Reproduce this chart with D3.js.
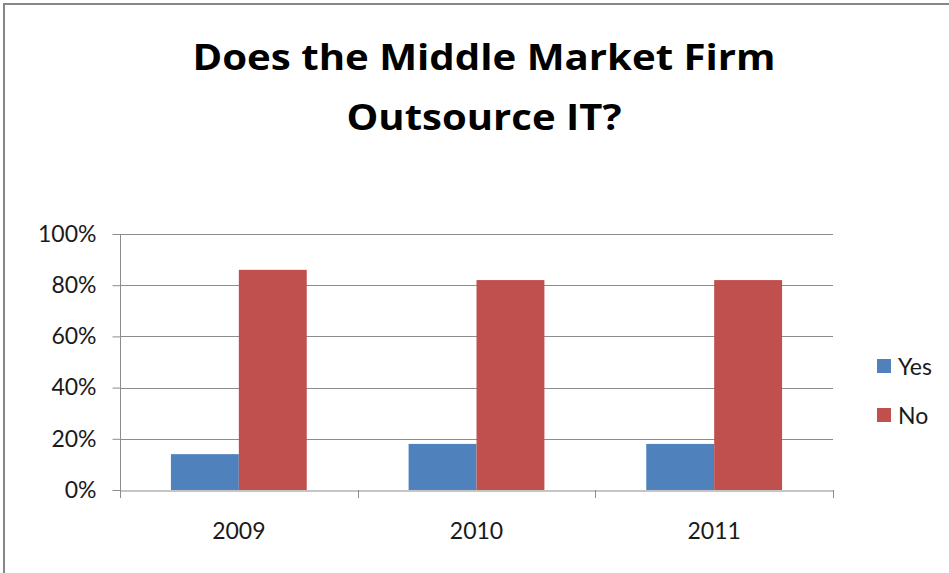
<!DOCTYPE html>
<html>
<head>
<meta charset="utf-8">
<script src="https://cdn.jsdelivr.net/npm/d3@7"></script>
<style>
  html, body { margin: 0; padding: 0; background: #fff; }
  svg { display: block; }
  text { font-family: Lato, "Open Sans", sans-serif; fill: #1a1a1a; }
</style>
</head>
<body>
<svg id="chart" width="949" height="573"></svg>
<script>
// Survey answers per year
const years = ["2009", "2010", "2011"];
const seriesNames = ["Yes", "No"];
const yesValues = [0.14, 0.18, 0.18];
const noValues = [0.86, 0.82, 0.82];
const yTicks = [0, 0.2, 0.4, 0.6, 0.8, 1.0];
const titleLines = ["Does the Middle Market Firm", "Outsource IT?"];
const colors = ["#4F81BD", "#C0504D"];

const rows = years.map((y, i) => ({ year: y, values: [yesValues[i], noValues[i]] }));

const svg = d3.select("#chart");
const W = 949, H = 573;
const plot = { left: 120, right: 833, top: 234, bottom: 490 };
const labelFont = "23px";

// Chart area border
svg.append("rect")
  .attr("x", 4).attr("y", 4)
  .attr("width", W + 20).attr("height", H + 20)
  .attr("fill", "none").attr("stroke", "#878787").attr("stroke-width", 2);

// Title, two centred lines
const titleWidths = [583, 275];
svg.append("g").selectAll("text")
  .data(titleLines)
  .join("text")
  .attr("x", 484)
  .attr("y", (d, i) => 70 + i * 60)
  .attr("text-anchor", "middle")
  .attr("textLength", (d, i) => titleWidths[i])
  .attr("lengthAdjust", "spacingAndGlyphs")
  .style("font-family", "'Open Sans', sans-serif")
  .style("font-weight", "bold")
  .style("font-size", "36px")
  .style("fill", "#000")
  .text(d => d);

const x0 = d3.scaleBand().domain(years).range([plot.left, plot.right]).padding(0);
const x1 = d3.scaleBand().domain(seriesNames).range([0, x0.bandwidth()])
  .paddingInner(0).paddingOuter(0.75);
const y = d3.scaleLinear().domain([0, 1]).range([plot.bottom, plot.top]);

// Horizontal gridlines
svg.append("g")
  .selectAll("line")
  .data(yTicks.filter(t => t > 0))
  .join("line")
  .attr("x1", plot.left).attr("x2", plot.right)
  .attr("y1", d => Math.round(y(d)) + 0.5).attr("y2", d => Math.round(y(d)) + 0.5)
  .attr("stroke", "#8c8c8c").attr("stroke-width", 1);

// Bars
svg.append("g")
  .selectAll("g")
  .data(rows)
  .join("g")
  .attr("transform", d => `translate(${x0(d.year)},0)`)
  .selectAll("rect")
  .data(d => d.values.map((v, i) => ({ key: seriesNames[i], value: v, i })))
  .join("rect")
  .attr("x", d => x1(d.key))
  .attr("width", x1.bandwidth())
  .attr("y", d => y(d.value))
  .attr("height", d => y(0) - y(d.value))
  .attr("fill", d => colors[d.i]);

// Y axis
const yAxis = svg.append("g")
  .attr("transform", `translate(${plot.left + 0.5},0)`)
  .call(d3.axisLeft(y).tickValues(yTicks).tickFormat(d3.format(".0%")).tickSize(8).tickPadding(16));
yAxis.select(".domain").remove();
yAxis.selectAll(".tick line").attr("stroke", "#8c8c8c");
yAxis.selectAll(".tick text").style("font-size", labelFont).style("font-family", "Lato, sans-serif").attr("fill", "#1a1a1a");
svg.append("line")
  .attr("x1", plot.left + 0.5).attr("x2", plot.left + 0.5)
  .attr("y1", plot.top).attr("y2", plot.bottom + 8)
  .attr("stroke", "#8c8c8c");

// X axis
const xAxis = svg.append("g")
  .attr("transform", `translate(0,${Math.round(plot.bottom) + 0.5})`)
  .call(d3.axisBottom(x0).tickSize(0).tickPadding(32));
xAxis.select(".domain").attr("stroke", "#8c8c8c");
xAxis.selectAll(".tick text").style("font-size", labelFont).style("font-family", "Lato, sans-serif").attr("fill", "#1a1a1a");
// Category boundary ticks
const boundaries = years.map(d => x0(d)).concat([x0.range()[1]]);
svg.append("g").selectAll("line")
  .data(boundaries)
  .join("line")
  .attr("x1", d => Math.round(d) + 0.5).attr("x2", d => Math.round(d) + 0.5)
  .attr("y1", plot.bottom).attr("y2", plot.bottom + 8)
  .attr("stroke", "#8c8c8c");

// Legend
const legend = svg.append("g").attr("transform", "translate(877,359)");
const li = legend.selectAll("g").data(seriesNames).join("g")
  .attr("transform", (d, i) => `translate(0,${i * 49})`);
li.append("rect").attr("width", 14).attr("height", 14).attr("fill", (d, i) => colors[i]);
li.append("text").attr("x", 21).attr("y", 15.5)
  .style("font-size", labelFont).text(d => d);
</script>
</body>
</html>
